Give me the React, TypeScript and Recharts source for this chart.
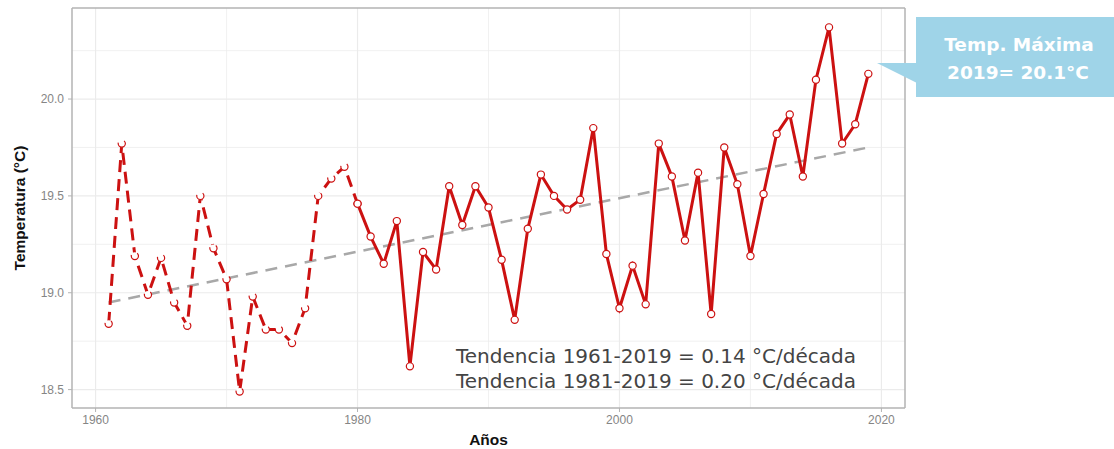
import React from 'react';
import { LineChart, Line, XAxis, YAxis, ReferenceLine } from 'recharts';

if (typeof document !== 'undefined') document.body.style.margin = '0';

const years = [
  1961, 1962, 1963, 1964, 1965, 1966, 1967, 1968, 1969, 1970,
  1971, 1972, 1973, 1974, 1975, 1976, 1977, 1978, 1979, 1980,
  1981, 1982, 1983, 1984, 1985, 1986, 1987, 1988, 1989, 1990,
  1991, 1992, 1993, 1994, 1995, 1996, 1997, 1998, 1999, 2000,
  2001, 2002, 2003, 2004, 2005, 2006, 2007, 2008, 2009, 2010,
  2011, 2012, 2013, 2014, 2015, 2016, 2017, 2018, 2019,
];

const tempMax = [
  18.84, 19.77, 19.19, 18.99, 19.18, 18.95, 18.83, 19.50, 19.23, 19.07,
  18.49, 18.98, 18.81, 18.81, 18.74, 18.92, 19.50, 19.59, 19.65, 19.46,
  19.29, 19.15, 19.37, 18.62, 19.21, 19.12, 19.55, 19.35, 19.55, 19.44,
  19.17, 18.86, 19.33, 19.61, 19.50, 19.43, 19.48, 19.85, 19.20, 18.92,
  19.14, 18.94, 19.77, 19.60, 19.27, 19.62, 18.89, 19.75, 19.56, 19.19,
  19.51, 19.82, 19.92, 19.60, 20.10, 20.37, 19.77, 19.87, 20.13,
];

// recta de tendencia 1961-2019 (solo extremos)
const trendYears = [1961, 2019];
const trendValues = [18.95, 19.75];

const xTicks = [1960, 1980, 2000, 2020];
const xMinor = [1970, 1990, 2010];
const yTicks = [18.5, 19.0, 19.5, 20.0];
const yMinor = [18.75, 19.25, 19.75, 20.25];

const X_DOMAIN: [number, number] = [1958.2, 2021.8];
const Y_DOMAIN: [number, number] = [18.405, 20.47];

const data = years.map((year, i) => {
  const ti = trendYears.indexOf(year);
  return {
    year,
    early: year <= 1980 ? tempMax[i] : null,
    late: year >= 1980 ? tempMax[i] : null,
    trend: ti >= 0 ? trendValues[ti] : null,
  };
});

const RED = '#cc1111';
const GRID = '#ebebeb';
const BORDER = '#b3b3b3';
const TICK = { fill: '#858585', fontSize: 12, fontFamily: 'Liberation Sans, Arial, sans-serif' };

const dot = { r: 3.6, fill: '#fff', stroke: RED, strokeWidth: 1.2 };

const YTitle = (props: any) => {
  const vb = props.viewBox || { x: 0, y: 8, width: 72, height: 400 };
  const cx = vb.x + 19;
  const cy = vb.y + vb.height / 2;
  return (
    <text x={cx} y={cy} transform={`rotate(-90 ${cx} ${cy})`} textAnchor="middle" dominantBaseline="central"
      fontSize={15.5} fontWeight="bold" fill="#111" fontFamily="Liberation Sans, Arial, sans-serif">
      Temperatura (°C)
    </text>
  );
};

const XTitle = (props: any) => {
  const vb = props.viewBox || { x: 72, y: 408, width: 833, height: 41 };
  return (
    <text x={vb.x + vb.width / 2} y={vb.y + 31} textAnchor="middle" dominantBaseline="central"
      fontSize={15.5} fontWeight="bold" fill="#111" fontFamily="Liberation Sans, Arial, sans-serif">
      Años
    </text>
  );
};

export default function App() {
  return (
    <div style={{ position: 'relative', width: 1114, height: 449, background: '#fff' }}>
      <LineChart width={1114} height={449} data={data} margin={{ top: 8, right: 209, bottom: 0, left: 0 }}>
        {xMinor.map((v) => <ReferenceLine key={`xm${v}`} x={v} stroke={GRID} strokeWidth={0.7} />)}
        {yMinor.map((v) => <ReferenceLine key={`ym${v}`} y={v} stroke={GRID} strokeWidth={0.7} />)}
        {xTicks.map((v) => <ReferenceLine key={`xg${v}`} x={v} stroke={GRID} strokeWidth={1.2} />)}
        {yTicks.map((v) => <ReferenceLine key={`yg${v}`} y={v} stroke={GRID} strokeWidth={1.2} />)}
        <XAxis type="number" dataKey="year" domain={X_DOMAIN} ticks={xTicks} allowDataOverflow
          height={41} tick={TICK} tickSize={4} tickMargin={3}
          axisLine={{ stroke: BORDER, strokeWidth: 1.5 }} tickLine={{ stroke: BORDER }}
          label={<XTitle />} />
        <YAxis type="number" domain={Y_DOMAIN} ticks={yTicks} allowDataOverflow width={72}
          tick={TICK} tickSize={4} tickMargin={4} tickFormatter={(v: number) => v.toFixed(1)}
          axisLine={{ stroke: BORDER, strokeWidth: 1.5 }} tickLine={{ stroke: BORDER }}
          label={<YTitle />} />
        <ReferenceLine y={Y_DOMAIN[1]} stroke={BORDER} strokeWidth={1.5} />
        <ReferenceLine x={X_DOMAIN[1]} stroke={BORDER} strokeWidth={1.5} />
        <Line dataKey="trend" connectNulls stroke="#a8a8a8" strokeWidth={2.5} strokeDasharray="12 8"
          dot={false} isAnimationActive={false} />
        <Line dataKey="early" stroke={RED} strokeWidth={3} strokeDasharray="12 7"
          dot={dot} isAnimationActive={false} />
        <Line dataKey="late" stroke={RED} strokeWidth={3}
          dot={dot} isAnimationActive={false} />
      </LineChart>
      <svg width={1114} height={449} style={{ position: 'absolute', left: 0, top: 0, pointerEvents: 'none' }}>
        <g fontFamily="DejaVu Sans, sans-serif" fontSize={20} fill="#444">
          <text x={456} y={356} dominantBaseline="central">Tendencia 1961-2019 = 0.14 °C/década</text>
          <text x={456} y={381} dominantBaseline="central">Tendencia 1981-2019 = 0.20 °C/década</text>
        </g>
        <polygon points="877,63 917,63 917,83" fill="#9fd4e8" />
        <rect x={916} y={17} width={198} height={80} fill="#9fd4e8" />
        <g fontFamily="DejaVu Sans, sans-serif" fontSize={18.5} fontWeight="bold" fill="#fff" textAnchor="middle">
          <text x={1019} y={44} dominantBaseline="central">Temp. Máxima</text>
          <text x={1018} y={72} dominantBaseline="central">2019= 20.1°C</text>
        </g>
      </svg>
    </div>
  );
}
